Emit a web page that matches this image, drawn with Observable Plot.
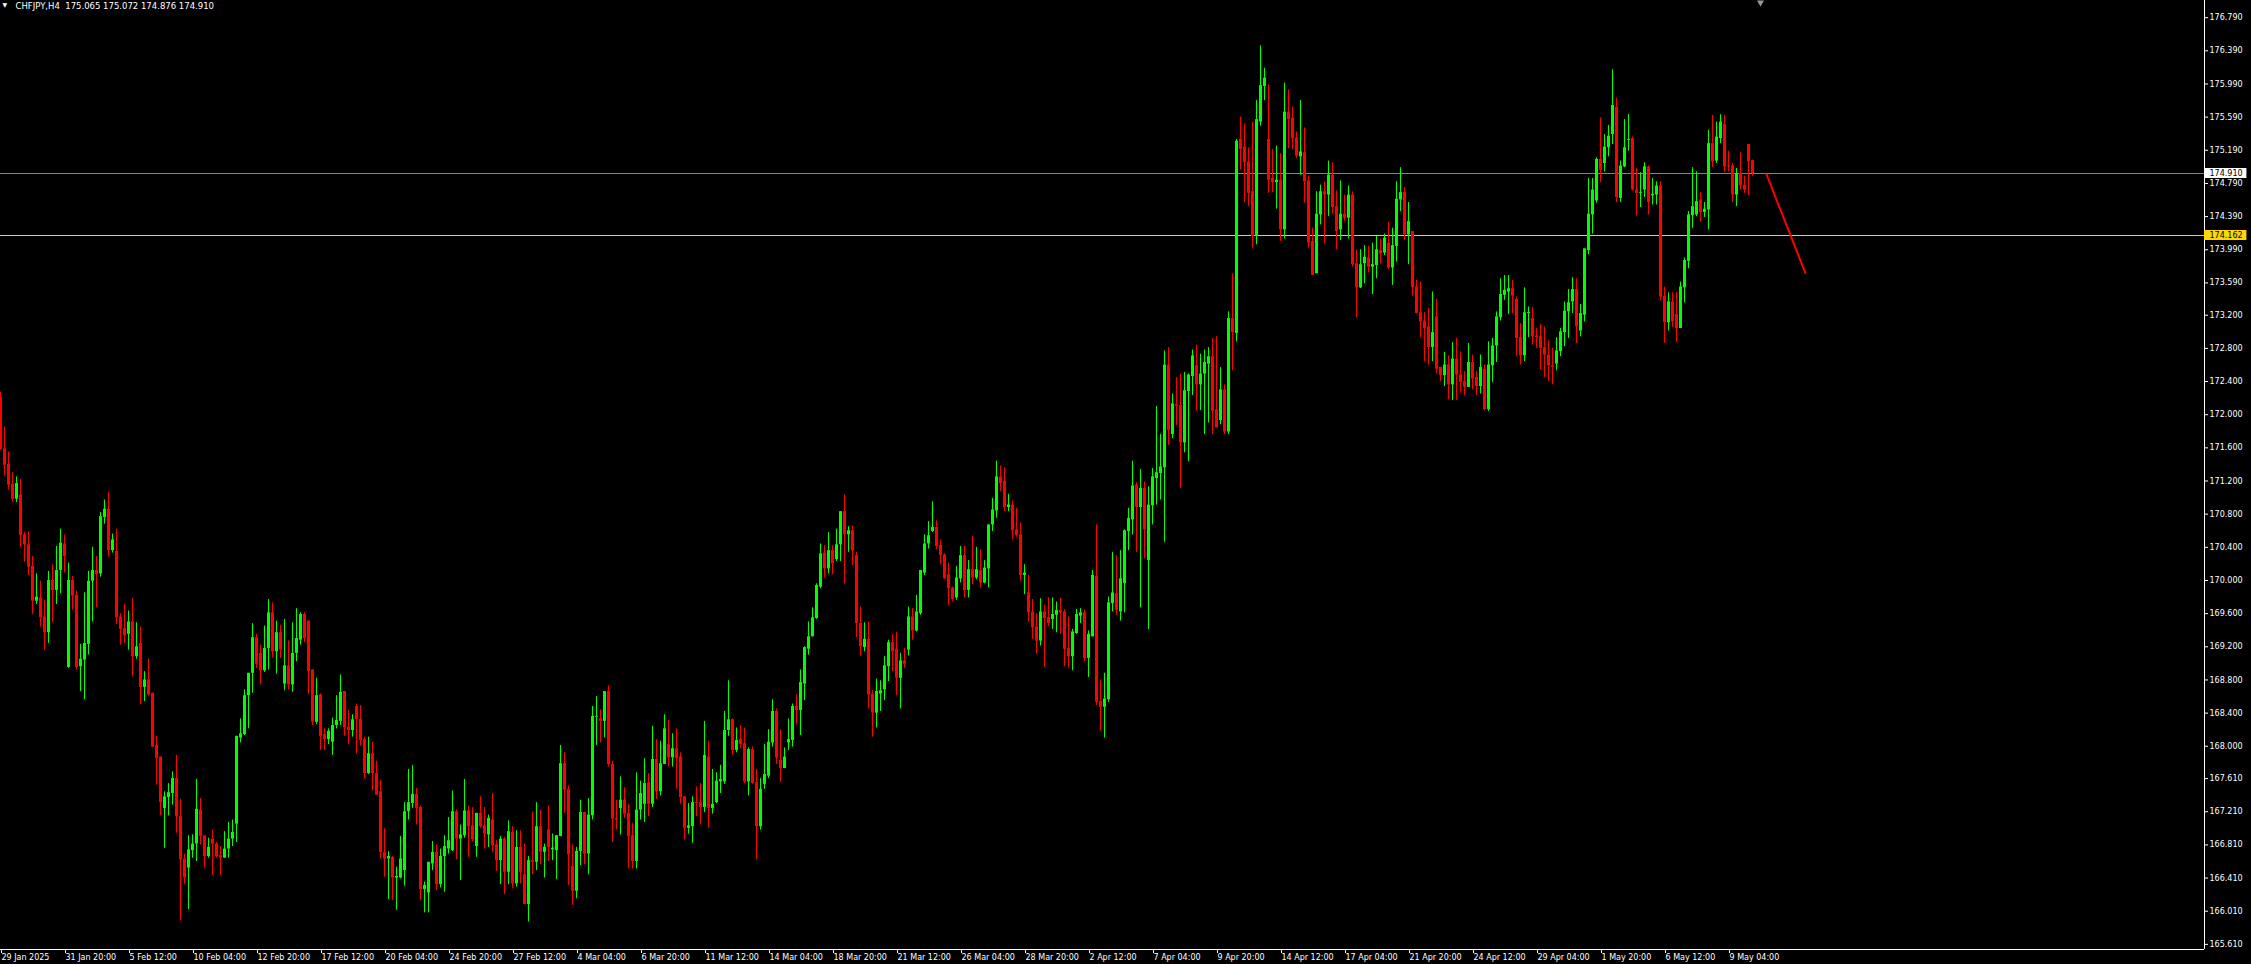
<!DOCTYPE html>
<html><head><meta charset="utf-8">
<script src="https://cdn.jsdelivr.net/npm/d3@7"></script>
<script src="https://cdn.jsdelivr.net/npm/@observablehq/plot@0.6"></script>
<style>
html,body{margin:0;padding:0;background:#000;overflow:hidden}
#chart{width:2251px;height:964px}
</style></head><body><div id="chart"></div>
<script>
// ---- chart data (CHFJPY, H4) ----
const symbol = "CHFJPY,H4";
const lastQuote = ["175.065", "175.072", "174.876", "174.910"];

const open = [
172.21,171.59,171.40,171.16,170.98,171.03,170.55,170.43,170.17,169.75,
169.79,169.56,169.37,170.00,169.88,170.12,170.44,168.95,170.00,169.82,
168.96,169.04,169.23,169.99,170.12,170.08,170.76,170.86,170.36,170.35,
169.56,169.42,169.35,169.50,169.08,169.24,168.71,168.80,168.64,168.01,
167.87,167.25,167.38,167.43,167.61,167.15,166.64,166.53,166.74,166.82,
167.23,166.92,166.67,166.88,166.82,166.68,166.65,166.76,166.88,167.06,
168.10,168.14,168.61,168.88,169.31,169.12,168.91,169.18,169.61,169.14,
169.37,168.75,168.97,168.74,169.12,169.28,169.59,169.51,168.92,168.29,
168.62,168.14,168.08,168.05,168.25,168.30,168.66,168.23,168.19,168.48,
168.32,168.08,167.67,167.91,167.67,167.45,166.72,166.64,166.66,166.41,
166.41,166.50,167.21,167.31,167.42,167.26,166.27,166.23,166.58,166.72,
166.33,166.67,166.76,166.74,167.21,166.88,166.92,167.22,167.04,166.79,
167.19,167.04,166.93,167.11,166.81,166.62,166.88,166.48,166.96,166.34,
166.78,166.45,166.09,166.62,166.60,167.03,166.72,166.99,166.75,166.74,
166.91,167.79,167.48,166.55,166.25,166.73,167.20,166.70,167.16,168.35,
168.33,168.30,168.66,167.78,167.13,167.25,167.35,167.19,166.92,166.61,
167.23,167.30,167.56,167.30,167.84,167.45,167.78,168.02,167.86,167.97,
167.87,167.39,167.01,167.03,167.32,167.32,167.26,167.87,167.25,167.32,
167.57,167.57,168.19,168.32,167.95,168.08,168.03,167.57,167.96,167.56,
167.03,167.54,167.64,168.04,168.42,167.83,167.73,168.04,168.07,168.48,
168.43,168.75,169.17,169.32,169.54,169.92,170.33,170.14,170.36,170.25,
170.43,170.83,170.55,170.60,170.30,169.48,169.19,169.29,168.63,168.40,
168.63,168.68,168.96,169.25,169.17,168.82,169.03,169.16,169.56,169.39,
169.60,170.09,170.44,170.59,170.64,170.42,170.31,170.07,169.91,169.79,
170.02,170.30,169.88,170.13,170.03,170.12,169.97,170.14,170.67,170.84,
171.25,171.20,170.88,170.91,170.61,170.55,170.06,169.85,169.62,169.44,
169.27,169.62,169.55,169.53,169.58,169.64,169.62,169.18,169.08,169.36,
169.57,169.61,169.06,169.32,170.05,168.54,168.47,168.56,169.72,169.84,
169.62,169.96,170.59,170.73,171.15,170.88,171.11,170.24,170.90,171.23,
171.29,171.36,172.60,171.76,172.12,172.11,171.66,172.28,172.46,172.59,
172.36,172.49,172.61,172.70,172.06,171.93,172.30,171.79,173.16,172.98,
175.32,175.23,175.05,174.69,174.15,175.53,175.96,175.32,174.85,174.80,
174.83,174.23,175.65,175.58,175.34,175.11,175.16,174.82,174.09,173.70,
174.41,174.69,174.65,174.89,174.51,174.23,174.42,174.37,174.65,173.82,
173.53,173.82,173.89,173.78,173.80,173.98,173.95,174.07,173.77,174.03,
174.59,174.68,174.17,174.21,173.54,173.23,173.13,173.06,172.81,173.18,
172.57,172.47,172.60,172.36,172.67,172.48,172.40,172.33,172.63,172.45,
172.34,172.55,172.06,172.59,172.83,173.17,173.44,173.48,173.52,173.39,
172.93,172.71,173.22,173.16,172.95,172.94,172.81,172.72,172.59,172.61,
172.76,172.99,173.24,173.36,173.51,173.01,173.20,173.98,174.41,174.58,
175.08,175.03,175.22,175.38,175.71,174.61,174.99,175.31,175.33,174.71,
174.67,174.71,174.99,174.64,174.65,174.76,173.43,173.11,173.36,173.21,
173.04,173.53,173.85,174.40,174.41,174.59,174.44,174.47,175.27,175.06,
175.33,175.50,175.00,175.00,174.65,174.91,174.77,175.26,175.065];

const high = [
172.27,171.85,171.55,171.30,171.25,171.22,170.58,170.59,170.29,170.08,
169.99,169.76,170.11,170.19,170.41,170.62,170.55,170.21,170.05,169.87,
169.23,169.85,170.11,170.40,170.29,170.82,170.97,171.06,170.56,170.62,
169.60,169.71,169.63,169.78,169.49,169.44,168.90,169.05,168.64,168.12,
167.87,167.45,167.55,167.69,167.89,167.36,166.70,166.92,166.93,167.60,
167.37,166.92,166.89,166.99,166.84,166.79,166.97,167.08,167.11,168.12,
168.33,168.68,168.88,169.48,169.35,169.22,169.45,169.77,169.73,169.51,
169.46,169.53,169.27,169.49,169.66,169.61,169.61,169.51,168.92,168.82,
168.63,168.21,168.21,168.34,168.61,168.86,168.66,168.43,168.38,168.51,
168.49,168.11,168.11,168.05,167.82,167.59,167.01,166.73,166.67,166.54,
166.91,167.32,167.72,167.77,167.49,167.28,166.36,166.60,166.85,166.81,
166.76,166.92,167.14,167.46,167.23,167.05,167.60,167.28,167.26,167.19,
167.39,167.26,167.17,167.43,166.86,166.91,166.90,167.10,167.03,166.98,
166.98,166.82,166.67,167.21,167.32,167.23,166.82,167.28,166.94,166.92,
168.01,167.92,167.52,166.81,166.78,167.35,167.20,167.37,168.48,168.60,
168.44,168.66,168.73,167.82,167.35,167.63,167.50,167.30,167.07,167.68,
167.58,167.85,167.67,168.24,168.08,168.06,168.38,168.31,168.15,168.21,
167.92,167.39,167.31,167.39,167.51,167.55,168.30,168.06,167.72,167.68,
167.77,168.42,168.79,168.33,168.22,168.25,168.22,167.98,167.99,167.72,
167.61,168.02,168.20,168.56,168.45,168.20,167.98,168.33,168.51,168.62,
168.92,169.20,169.50,169.67,169.96,170.44,170.42,170.58,170.42,170.62,
170.83,171.03,170.65,170.66,170.34,169.68,169.49,169.50,168.67,168.81,
168.79,169.08,169.28,169.35,169.37,169.12,169.18,169.68,169.66,169.82,
170.12,170.55,170.71,170.95,170.72,170.49,170.32,170.21,169.92,170.17,
170.41,170.41,170.24,170.53,170.40,170.37,170.24,170.67,170.99,171.44,
171.38,171.36,171.04,170.96,170.87,170.69,170.19,170.06,169.77,169.60,
169.78,169.70,169.79,169.79,169.74,169.79,169.65,169.56,169.41,169.65,
169.66,169.64,169.39,170.12,170.67,168.80,168.88,169.80,170.34,170.30,
170.36,170.61,170.87,171.44,171.18,171.34,171.19,171.13,171.35,172.10,
171.76,172.77,172.81,172.25,172.45,172.49,172.51,172.49,172.78,172.84,
172.73,172.78,172.81,172.92,172.94,172.57,172.36,173.24,173.70,175.32,
175.59,175.51,175.22,175.53,175.79,176.45,176.18,175.98,175.20,175.24,
175.15,176.00,175.92,175.71,175.41,175.79,175.46,174.88,174.25,174.69,
174.77,174.81,175.06,175.04,174.70,174.82,174.65,174.76,174.69,173.99,
173.99,174.04,174.03,174.07,174.15,174.12,174.18,174.32,174.25,174.81,
174.98,174.74,174.56,174.21,173.62,173.60,173.23,173.28,173.48,173.39,
172.57,172.75,172.71,172.87,172.92,172.76,172.52,172.86,172.72,172.52,
172.72,172.60,172.88,172.92,173.24,173.64,173.68,173.68,173.62,173.42,
173.10,173.53,173.30,173.29,173.04,173.09,173.06,172.89,172.80,172.93,
173.04,173.36,173.51,173.65,173.64,173.33,174.00,174.85,174.85,175.10,
175.58,175.38,175.49,176.16,175.82,175.06,175.56,175.62,175.35,174.97,
174.92,175.04,175.00,174.85,174.81,174.81,173.54,173.47,173.47,173.48,
173.60,173.89,174.45,174.98,174.93,174.68,174.56,175.43,175.61,175.53,
175.62,175.61,175.18,175.03,174.97,175.16,174.88,175.26,175.072];

const low = [
171.57,171.26,171.09,170.94,170.94,170.40,170.22,170.06,169.59,169.71,
169.44,169.16,169.24,169.49,169.71,169.84,170.09,168.94,169.64,168.92,
168.66,168.56,169.10,169.50,169.67,170.04,170.68,170.28,170.33,169.47,
169.22,169.24,169.16,168.84,169.05,168.50,168.54,168.60,167.98,167.53,
167.16,166.77,167.16,167.29,166.95,165.89,166.33,166.03,166.65,166.61,
166.81,166.53,166.65,166.44,166.65,166.44,166.65,166.65,166.79,166.84,
168.04,168.13,168.21,168.64,168.94,168.74,168.89,168.92,169.07,168.87,
169.06,168.67,168.68,168.65,169.02,169.22,169.25,168.63,168.25,168.26,
167.95,167.95,168.02,167.89,168.21,168.25,168.12,168.02,168.11,167.91,
168.00,167.60,167.66,167.46,167.41,166.64,166.42,166.15,166.14,166.02,
166.40,166.31,167.11,167.25,167.05,166.14,165.99,165.99,166.50,166.26,
166.29,166.24,166.70,166.73,166.63,166.38,166.89,166.66,166.85,166.66,
167.01,166.76,166.78,166.72,166.49,166.33,166.21,166.33,166.28,166.30,
166.34,166.09,165.88,166.45,166.50,166.57,166.41,166.61,166.62,166.39,
166.91,167.19,166.32,166.08,166.16,166.56,166.57,166.45,167.11,168.01,
168.04,168.10,167.75,166.84,166.99,166.93,167.13,166.52,166.52,166.52,
167.11,167.08,167.15,167.26,167.36,167.40,167.78,167.75,167.75,167.48,
167.30,166.87,166.94,166.83,167.15,167.05,167.20,167.01,167.18,167.31,
167.43,167.54,168.12,167.89,167.92,167.97,167.55,167.40,167.54,166.63,
166.99,167.48,167.61,167.99,167.78,167.56,167.73,167.95,167.99,168.26,
168.13,168.55,169.10,169.32,169.53,169.90,170.03,170.08,170.07,170.23,
170.23,169.96,170.34,170.18,169.31,169.09,169.14,168.45,168.11,168.22,
168.42,168.55,168.78,168.90,168.61,168.45,168.94,169.09,169.28,169.38,
169.58,170.06,170.38,170.58,170.37,170.19,170.01,169.70,169.74,169.76,
169.97,169.79,169.79,169.95,170.01,169.91,169.96,169.91,170.59,170.75,
171.07,170.83,170.83,170.49,170.52,169.99,169.83,169.50,169.29,169.11,
169.21,168.95,169.44,169.41,169.37,169.35,168.96,168.94,168.91,169.35,
169.48,169.02,168.83,169.32,168.49,168.18,168.10,168.53,169.62,169.58,
169.51,169.61,170.36,170.55,170.34,169.67,170.26,169.41,170.67,170.91,
170.97,170.46,171.63,171.71,171.87,171.11,171.54,171.43,172.23,172.04,
172.05,171.76,171.90,171.76,171.84,171.88,171.76,171.76,172.53,172.88,
174.95,174.56,174.51,174.01,174.05,175.48,175.79,174.67,174.68,174.48,
174.09,174.12,175.21,175.20,175.09,174.89,174.55,174.01,173.68,173.70,
174.29,174.06,174.39,174.42,173.99,174.10,174.33,174.12,173.78,173.17,
173.52,173.58,173.71,173.45,173.64,173.82,173.92,173.75,173.56,173.84,
174.45,174.10,173.81,173.43,173.22,172.93,172.64,172.60,172.64,172.49,
172.40,172.34,172.18,172.17,172.17,172.26,172.23,172.33,172.30,172.23,
172.25,172.05,172.04,172.39,172.63,173.13,173.38,173.21,173.22,172.70,
172.60,172.64,172.93,172.84,172.80,172.54,172.45,172.40,172.36,172.53,
172.70,172.82,172.92,173.22,172.86,172.94,173.12,173.93,174.18,174.55,
174.80,174.93,175.11,175.26,174.56,174.56,174.98,175.18,174.70,174.40,
174.50,174.62,174.41,174.53,174.53,173.37,172.86,173.01,173.05,172.87,
173.04,173.35,173.76,174.25,174.39,174.32,174.38,174.23,174.98,175.03,
175.27,174.92,174.93,174.56,174.51,174.71,174.67,174.64,174.876];

const close = [
171.58,171.39,171.15,170.98,171.17,170.54,170.43,170.16,169.75,169.80,
169.55,169.37,170.00,169.88,170.12,170.45,170.29,170.00,169.81,168.95,
169.05,169.24,169.99,170.12,170.07,170.77,170.86,170.36,170.49,169.55,
169.41,169.33,169.50,169.08,169.20,168.71,168.80,168.62,167.99,167.85,
167.32,167.39,167.44,167.61,167.15,166.63,166.41,166.75,166.82,167.24,
166.91,166.67,166.78,166.82,166.67,166.65,166.76,166.88,166.96,168.12,
168.15,168.61,168.88,169.31,168.99,168.91,169.18,169.61,169.14,169.37,
169.16,168.97,168.74,169.12,169.30,169.59,169.30,168.90,168.29,168.61,
168.12,168.08,168.18,168.25,168.31,168.65,168.22,168.19,168.32,168.32,
168.07,167.67,167.91,167.67,167.41,166.72,166.64,166.67,166.41,166.43,
166.64,167.21,167.32,167.42,167.25,166.27,166.32,166.60,166.72,166.33,
166.67,166.79,166.86,167.21,166.88,166.93,167.22,167.03,166.87,167.19,
167.03,166.94,167.13,166.80,166.62,166.88,166.48,166.97,166.34,166.78,
166.48,166.09,166.62,166.60,167.03,166.72,166.78,166.78,166.77,166.92,
167.79,167.47,166.69,166.25,166.73,167.20,166.70,167.17,168.36,168.36,
168.30,168.66,167.78,167.12,167.11,167.35,167.18,166.91,166.61,167.23,
167.43,167.55,167.30,167.84,167.45,167.79,168.21,167.86,167.97,167.85,
167.38,167.01,167.04,167.32,167.31,167.26,167.89,167.25,167.30,167.58,
167.60,168.19,168.32,167.95,168.07,168.02,167.57,167.96,167.55,167.03,
167.48,167.66,168.05,168.42,167.86,167.73,167.87,168.08,168.48,168.43,
168.77,169.19,169.32,169.55,169.94,170.32,170.14,170.36,170.20,170.43,
170.83,170.55,170.60,170.36,169.48,169.20,169.29,168.62,168.40,168.66,
168.67,168.97,169.25,169.14,168.82,169.03,168.99,169.56,169.39,169.62,
170.12,170.44,170.54,170.64,170.41,170.30,170.02,169.90,169.77,170.03,
170.30,169.88,170.13,170.03,170.13,169.97,170.15,170.67,170.85,171.25,
171.17,170.88,170.91,170.60,170.54,170.06,170.09,169.61,169.43,169.27,
169.62,169.54,169.48,169.59,169.64,169.61,169.17,169.08,169.38,169.59,
169.61,169.06,169.35,170.06,168.53,168.47,168.57,169.73,169.85,169.64,
170.02,170.60,170.75,171.14,170.88,171.11,170.61,170.91,171.25,171.30,
171.37,172.60,171.81,172.13,172.10,171.66,172.29,172.48,172.71,172.36,
172.49,172.63,172.70,172.04,171.84,172.30,171.79,173.16,172.99,175.30,
175.20,175.04,174.67,174.15,175.56,175.97,176.06,174.83,174.80,174.83,
174.23,175.65,175.56,175.33,175.12,175.17,174.81,174.07,173.68,174.42,
174.69,174.65,174.89,174.50,174.21,174.42,174.37,174.65,173.81,173.53,
173.81,173.90,173.78,173.81,173.99,173.94,174.13,173.77,174.04,174.60,
174.68,174.17,174.33,173.53,173.22,173.12,173.04,172.81,172.99,172.55,
172.47,172.60,172.36,172.67,172.48,172.39,172.33,172.63,172.43,172.34,
172.57,172.06,172.60,172.83,173.18,173.45,173.50,173.52,173.43,172.92,
172.71,173.23,173.23,172.94,172.93,172.80,172.72,172.59,172.57,172.77,
173.00,173.25,173.35,173.51,173.06,173.22,174.00,174.42,174.71,175.08,
174.95,175.23,175.36,175.73,174.62,175.00,175.22,175.32,174.71,174.67,
174.68,174.99,174.56,174.66,174.76,173.42,173.11,173.36,173.12,173.04,
173.54,173.86,174.41,174.51,174.57,174.44,174.48,175.27,175.05,175.35,
175.53,174.99,174.99,174.65,174.91,174.76,174.71,175.05,174.910];

// price axis labels (right) and time axis labels (bottom, one every 16 bars)
const priceTicks = [176.790,176.390,175.990,175.590,175.190,174.790,174.390,173.990,173.590,173.200,
  172.800,172.400,172.000,171.600,171.200,170.800,170.400,170.000,169.600,169.200,168.800,168.400,
  168.000,167.610,167.210,166.810,166.410,166.010,165.610];
const timeLabels = ["29 Jan 2025","31 Jan 20:00","5 Feb 12:00","10 Feb 04:00","12 Feb 20:00","17 Feb 12:00",
  "20 Feb 04:00","24 Feb 20:00","27 Feb 12:00","4 Mar 04:00","6 Mar 20:00","11 Mar 12:00","14 Mar 04:00",
  "18 Mar 20:00","21 Mar 12:00","26 Mar 04:00","28 Mar 20:00","2 Apr 12:00","7 Apr 04:00","9 Apr 20:00",
  "14 Apr 12:00","17 Apr 04:00","21 Apr 20:00","24 Apr 12:00","29 Apr 04:00","1 May 20:00","6 May 12:00","9 May 04:00"];
const timeLabelBars = [0,16,32,48,64,80,96,112,128,144,160,176,192,208,224,240,256,272,288,304,320,336,352,368,384,400,416,432];

const bidLevel = 174.910;   // current bid line
const levelLine = 174.162;  // horizontal level
const trendBars = [441.5, 451.2];
const trendPrices = [174.90, 173.71];
const shiftMarkerBar = 440;

// ---- build ----
const bars = open.map((o, i) => ({i, o, h: high[i], l: low[i], c: close[i]}));
const trend = trendBars.map((b, k) => ({bar: b, price: trendPrices[k]}));
const UP = "#00ff00", DOWN = "#ff0000";
const col = d => (d.c >= d.o ? UP : DOWN);
const yTop = 176.997, yBottom = 165.548, pxPerUnit = 949 / (yTop - yBottom);
const minBody = 1 / pxPerUnit;
const bodyLo = d => Math.min(d.o, d.c);
const bodyHi = d => Math.max(d.o, d.c, Math.min(d.o, d.c) + minBody);
const xMax = 551;
const boxH = 5 / pxPerUnit;

const chart = Plot.plot({
  width: 2251, height: 964,
  marginLeft: 0, marginRight: 47, marginTop: 0, marginBottom: 15,
  x: {type: "linear", domain: [0, xMax], axis: null},
  y: {domain: [yBottom, yTop], axis: null},
  color: {type: "identity"},
  style: {background: "#000", color: "#fff", fontFamily: "DejaVu Sans, sans-serif", fontSize: "8px"},
  marks: [
    Plot.ruleY([bidLevel], {stroke: "#778899"}),
    Plot.ruleY([levelLine], {stroke: "#ffd700"}),
    Plot.ruleX(bars, {x: "i", y1: "l", y2: "h", stroke: col, strokeWidth: 1}),
    Plot.ruleX(bars, {x: "i", y1: bodyLo, y2: bodyHi, stroke: col, strokeWidth: 3}),
    Plot.line(trend, {x: "bar", y: "price", stroke: "#ff0000", strokeWidth: 2}),
    Plot.ruleX([xMax], {stroke: "#fff"}),
    Plot.ruleY([yBottom], {stroke: "#fff"}),
    Plot.axisY({ticks: priceTicks, anchor: "right", tickSize: 3, tickPadding: 2,
      tickFormat: d => d.toFixed(3), label: null, fill: "#fff"}),
    Plot.axisX({ticks: timeLabelBars, anchor: "bottom", tickSize: 4, tickPadding: 1,
      tickFormat: d => timeLabels[timeLabelBars.indexOf(d)], textAnchor: "start", dx: 1,
      label: null, fill: "#fff"}),
    Plot.rect([bidLevel], {x1: xMax, x2: xMax + 10.6, y1: d => d - boxH, y2: d => d + boxH, fill: "#ffffff"}),
    Plot.text([bidLevel], {x: xMax, y: d => d, text: d => d.toFixed(3), textAnchor: "start", dx: 5, fill: "#000"}),
    Plot.rect([levelLine], {x1: xMax, x2: xMax + 10.6, y1: d => d - boxH, y2: d => d + boxH, fill: "#ffd700"}),
    Plot.text([levelLine], {x: xMax, y: d => d, text: d => d.toFixed(3), textAnchor: "start", dx: 5, fill: "#000"}),
    Plot.text(["\u25BC"], {frameAnchor: "top-left", dx: 2, dy: 2, fontSize: 6, fill: "#fff", lineAnchor: "top", textAnchor: "start"}),
    Plot.text([symbol + "  " + lastQuote.join(" ")], {frameAnchor: "top-left", dx: 15, dy: 2,
      lineAnchor: "top", textAnchor: "start", fill: "#fff", fontSize: 8.5}),
    Plot.dot([shiftMarkerBar], {x: d => d, frameAnchor: "top", dy: 2, r: 2.6, symbol: "triangle",
      rotate: 180, fill: "#9a9a9a", stroke: "none"})
  ]
});
document.getElementById("chart").appendChild(chart);
</script></body></html>
